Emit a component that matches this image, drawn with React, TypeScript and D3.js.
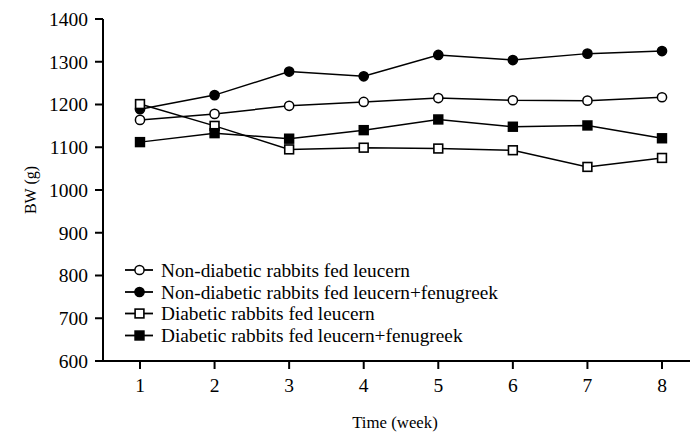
import React from "react";
import * as d3 from "d3";

const weeks = [1, 2, 3, 4, 5, 6, 7, 8];
const nonDiabeticLeucern = [1164, 1178, 1197, 1206, 1215, 1210, 1209, 1217];
const nonDiabeticFenugreek = [1189, 1222, 1277, 1266, 1316, 1304, 1319, 1325];
const diabeticLeucern = [1201, 1150, 1095, 1099, 1097, 1093, 1054, 1075];
const diabeticFenugreek = [1112, 1133, 1120, 1140, 1165, 1148, 1151, 1121];
const yTicks = [600, 700, 800, 900, 1000, 1100, 1200, 1300, 1400];
const seriesNames = [
  "Non-diabetic rabbits fed leucern",
  "Non-diabetic rabbits fed leucern+fenugreek",
  "Diabetic rabbits fed leucern",
  "Diabetic rabbits fed leucern+fenugreek",
];

const W = 690;
const H = 433;
const font = "'Liberation Serif', 'Times New Roman', serif";

type Series = { name: string; values: number[]; shape: "circle" | "square"; filled: boolean };

const series: Series[] = [
  { name: seriesNames[0], values: nonDiabeticLeucern, shape: "circle", filled: false },
  { name: seriesNames[1], values: nonDiabeticFenugreek, shape: "circle", filled: true },
  { name: seriesNames[2], values: diabeticLeucern, shape: "square", filled: false },
  { name: seriesNames[3], values: diabeticFenugreek, shape: "square", filled: true },
];

function Marker({ x, y, s }: { x: number; y: number; s: Series }) {
  const fill = s.filled ? "#000" : "#fff";
  if (s.shape === "circle") {
    return <circle cx={x} cy={y} r={4.6} fill={fill} stroke="#000" strokeWidth={1.5} />;
  }
  return <rect x={x - 4.4} y={y - 4.4} width={8.8} height={8.8} fill={fill} stroke="#000" strokeWidth={1.6} />;
}

export default function App() {
  const axisLeft = 103;
  const axisBottom = 361;
  const x = d3.scaleLinear().domain([1, 8]).range([140, 662]);
  const y = d3.scaleLinear().domain([600, 1400]).range([axisBottom, 19]);
  const line = d3
    .line<number>()
    .x((_, i) => x(weeks[i]))
    .y((d) => y(d));

  const legendY = [270, 292, 313.5, 335.5];

  return (
    <svg width={W} height={H} style={{ position: "absolute", left: 0, top: 0, background: "#fff" }}>
      <rect x={0} y={0} width={W} height={H} fill="#fff" />
      {/* y axis */}
      <line x1={axisLeft} x2={axisLeft} y1={y(1400)} y2={axisBottom + 1} stroke="#000" strokeWidth={2} />
      {yTicks.map((t) => (
        <g key={t}>
          <line x1={axisLeft - 8} x2={axisLeft} y1={y(t)} y2={y(t)} stroke="#000" strokeWidth={2} />
          <text x={88} y={y(t)} dy="0.35em" textAnchor="end" fontFamily={font} fontSize={19.5}>
            {t}
          </text>
        </g>
      ))}
      {/* x axis */}
      <line x1={axisLeft - 1} x2={690} y1={axisBottom} y2={axisBottom} stroke="#000" strokeWidth={2} />
      {weeks.map((w) => (
        <g key={w}>
          <line x1={x(w)} x2={x(w)} y1={axisBottom} y2={axisBottom + 8} stroke="#000" strokeWidth={2} />
          <text x={x(w)} y={385} dy="0.35em" textAnchor="middle" fontFamily={font} fontSize={19.5}>
            {w}
          </text>
        </g>
      ))}
      <text x={395} y={422} dy="0.35em" textAnchor="middle" fontFamily={font} fontSize={16.8}>
        Time (week)
      </text>
      <text
        transform={`translate(30,190) rotate(-90)`}
        textAnchor="middle"
        dy="0.35em"
        fontFamily={font}
        fontSize={16}
      >
        BW (g)
      </text>
      {/* series */}
      {series.map((s) => (
        <g key={s.name}>
          <path d={line(s.values) || ""} fill="none" stroke="#000" strokeWidth={1.5} />
          {s.values.map((v, i) => (
            <Marker key={i} x={x(weeks[i])} y={y(v)} s={s} />
          ))}
        </g>
      ))}
      {/* legend */}
      {series.map((s, i) => (
        <g key={"lg" + s.name}>
          <line x1={125} x2={153} y1={legendY[i]} y2={legendY[i]} stroke="#000" strokeWidth={1.8} />
          <Marker x={139.5} y={legendY[i]} s={s} />
          <text x={161} y={legendY[i]} dy="0.35em" fontFamily={font} fontSize={19.3}>
            {s.name}
          </text>
        </g>
      ))}
    </svg>
  );
}
